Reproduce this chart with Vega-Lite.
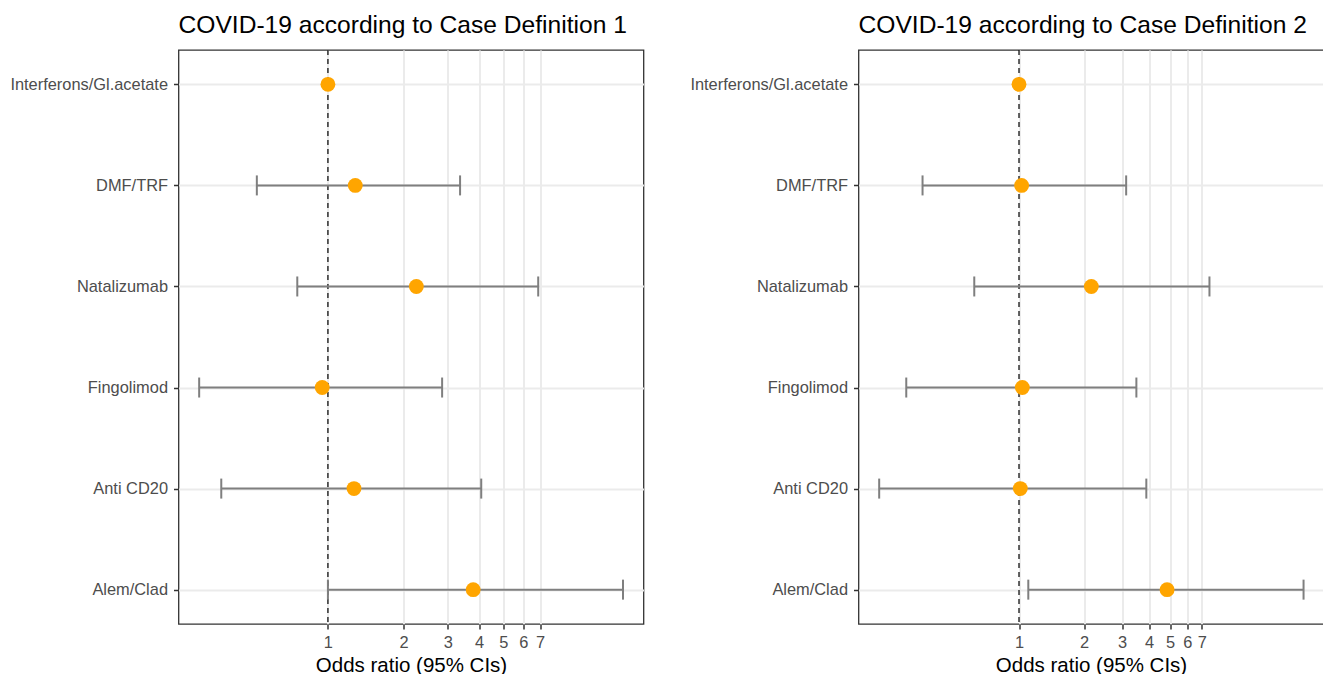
{
  "$schema": "https://vega.github.io/schema/vega-lite/v6.json",
  "padding": {"left": 8.5, "top": 12, "right": 0, "bottom": 0},
  "autosize": {"type": "pad"},
  "bounds": "flush",
  "spacing": 215,
  "background": "white",
  "config": {
    "font": "Liberation Sans",
    "view": {"stroke": "#333333", "strokeWidth": 1.3},
    "axis": {
      "grid": true,
      "gridColor": "#ebebeb",
      "gridWidth": 2,
      "domain": false,
      "tickColor": "#333333",
      "tickSize": 5,
      "tickWidth": 1.5,
      "labelFont": "Liberation Sans",
      "labelFontSize": 16.4,
      "labelColor": "#4d4d4d",
      "labelPadding": 5,
      "titleFont": "Liberation Sans",
      "titleFontSize": 20.5,
      "titleFontWeight": "normal",
      "titleColor": "#000000"
    },
    "axisY": {"labelPadding": 6},
    "title": {
      "font": "Liberation Sans",
      "fontSize": 24.6,
      "fontWeight": "normal",
      "color": "#000000",
      "anchor": "start",
      "frame": "group",
      "baseline": "alphabetic",
      "offset": 10.5
    }
  },
  "datasets": {
    "d1": [
      {"drug": "Interferons/Gl.acetate", "or": 1.0, "lo": null, "hi": null},
      {"drug": "DMF/TRF", "or": 1.285, "lo": 0.521, "hi": 3.36},
      {"drug": "Natalizumab", "or": 2.25, "lo": 0.755, "hi": 6.88},
      {"drug": "Fingolimod", "or": 0.949, "lo": 0.307, "hi": 2.85},
      {"drug": "Anti CD20", "or": 1.27, "lo": 0.376, "hi": 4.08},
      {"drug": "Alem/Clad", "or": 3.79, "lo": 1.0, "hi": 14.97}
    ],
    "d2": [
      {"drug": "Interferons/Gl.acetate", "or": 1.0, "lo": null, "hi": null},
      {"drug": "DMF/TRF", "or": 1.028, "lo": 0.358, "hi": 3.13},
      {"drug": "Natalizumab", "or": 2.16, "lo": 0.621, "hi": 7.6},
      {"drug": "Fingolimod", "or": 1.036, "lo": 0.301, "hi": 3.49},
      {"drug": "Anti CD20", "or": 1.014, "lo": 0.2256, "hi": 3.88},
      {"drug": "Alem/Clad", "or": 4.84, "lo": 1.104, "hi": 20.7}
    ]
  },
  "hconcat": [
    {
      "width": 465,
      "height": 574,
      "title": {"text": "COVID-19 according to Case Definition 1"},
      "layer": [
        {
          "data": {"values": [{}]},
          "mark": {"type": "rule", "color": "#111111", "strokeWidth": 1.3, "strokeDash": [5, 4]},
          "encoding": {
            "x": {"datum": 1, "type": "quantitative", "scale": {"type": "log", "domain": [0.254, 18.07], "nice": false}}
          }
        },
        {
          "data": {"name": "d1"},
          "transform": [{"filter": "datum.lo != null"}],
          "mark": {"type": "rule", "color": "#7f7f7f", "strokeWidth": 2},
          "encoding": {
            "x": {"field": "lo", "type": "quantitative", "scale": {"type": "log", "domain": [0.254, 18.07], "nice": false}},
            "x2": {"field": "hi"},
            "y": {"field": "drug", "type": "nominal", "sort": ["Interferons/Gl.acetate", "DMF/TRF", "Natalizumab", "Fingolimod", "Anti CD20", "Alem/Clad"], "scale": {"type": "point", "padding": 0.34}}
          }
        },
        {
          "data": {"name": "d1"},
          "transform": [{"filter": "datum.lo != null"}],
          "mark": {"type": "tick", "color": "#7f7f7f", "size": 20, "thickness": 2, "opacity": 1},
          "encoding": {
            "x": {"field": "lo", "type": "quantitative"},
            "y": {"field": "drug", "type": "nominal", "sort": ["Interferons/Gl.acetate", "DMF/TRF", "Natalizumab", "Fingolimod", "Anti CD20", "Alem/Clad"]}
          }
        },
        {
          "data": {"name": "d1"},
          "transform": [{"filter": "datum.hi != null"}],
          "mark": {"type": "tick", "color": "#7f7f7f", "size": 20, "thickness": 2, "opacity": 1},
          "encoding": {
            "x": {"field": "hi", "type": "quantitative"},
            "y": {"field": "drug", "type": "nominal", "sort": ["Interferons/Gl.acetate", "DMF/TRF", "Natalizumab", "Fingolimod", "Anti CD20", "Alem/Clad"]}
          }
        },
        {
          "data": {"name": "d1"},
          "mark": {"type": "circle", "color": "#FFA500", "size": 220, "opacity": 1},
          "encoding": {
            "x": {"field": "or", "type": "quantitative", "axis": {"values": [1, 2, 3, 4, 5, 6, 7], "format": "d", "title": "Odds ratio (95% CIs)", "titlePadding": 5, "labelFlush": false, "labelOverlap": false}},
            "y": {"field": "drug", "type": "nominal", "sort": ["Interferons/Gl.acetate", "DMF/TRF", "Natalizumab", "Fingolimod", "Anti CD20", "Alem/Clad"], "axis": {"title": null}}
          }
        }
      ]
    },
    {
      "width": 465,
      "height": 574,
      "title": {"text": "COVID-19 according to Case Definition 2"},
      "layer": [
        {
          "data": {"values": [{}]},
          "mark": {"type": "rule", "color": "#111111", "strokeWidth": 1.3, "strokeDash": [5, 4]},
          "encoding": {
            "x": {"datum": 1, "type": "quantitative", "scale": {"type": "log", "domain": [0.181, 25.6], "nice": false}}
          }
        },
        {
          "data": {"name": "d2"},
          "transform": [{"filter": "datum.lo != null"}],
          "mark": {"type": "rule", "color": "#7f7f7f", "strokeWidth": 2},
          "encoding": {
            "x": {"field": "lo", "type": "quantitative", "scale": {"type": "log", "domain": [0.181, 25.6], "nice": false}},
            "x2": {"field": "hi"},
            "y": {"field": "drug", "type": "nominal", "sort": ["Interferons/Gl.acetate", "DMF/TRF", "Natalizumab", "Fingolimod", "Anti CD20", "Alem/Clad"], "scale": {"type": "point", "padding": 0.34}}
          }
        },
        {
          "data": {"name": "d2"},
          "transform": [{"filter": "datum.lo != null"}],
          "mark": {"type": "tick", "color": "#7f7f7f", "size": 20, "thickness": 2, "opacity": 1},
          "encoding": {
            "x": {"field": "lo", "type": "quantitative"},
            "y": {"field": "drug", "type": "nominal", "sort": ["Interferons/Gl.acetate", "DMF/TRF", "Natalizumab", "Fingolimod", "Anti CD20", "Alem/Clad"]}
          }
        },
        {
          "data": {"name": "d2"},
          "transform": [{"filter": "datum.hi != null"}],
          "mark": {"type": "tick", "color": "#7f7f7f", "size": 20, "thickness": 2, "opacity": 1},
          "encoding": {
            "x": {"field": "hi", "type": "quantitative"},
            "y": {"field": "drug", "type": "nominal", "sort": ["Interferons/Gl.acetate", "DMF/TRF", "Natalizumab", "Fingolimod", "Anti CD20", "Alem/Clad"]}
          }
        },
        {
          "data": {"name": "d2"},
          "mark": {"type": "circle", "color": "#FFA500", "size": 220, "opacity": 1},
          "encoding": {
            "x": {"field": "or", "type": "quantitative", "axis": {"values": [1, 2, 3, 4, 5, 6, 7], "format": "d", "title": "Odds ratio (95% CIs)", "titlePadding": 5, "labelFlush": false, "labelOverlap": false}},
            "y": {"field": "drug", "type": "nominal", "sort": ["Interferons/Gl.acetate", "DMF/TRF", "Natalizumab", "Fingolimod", "Anti CD20", "Alem/Clad"], "axis": {"title": null}}
          }
        }
      ]
    }
  ]
}
